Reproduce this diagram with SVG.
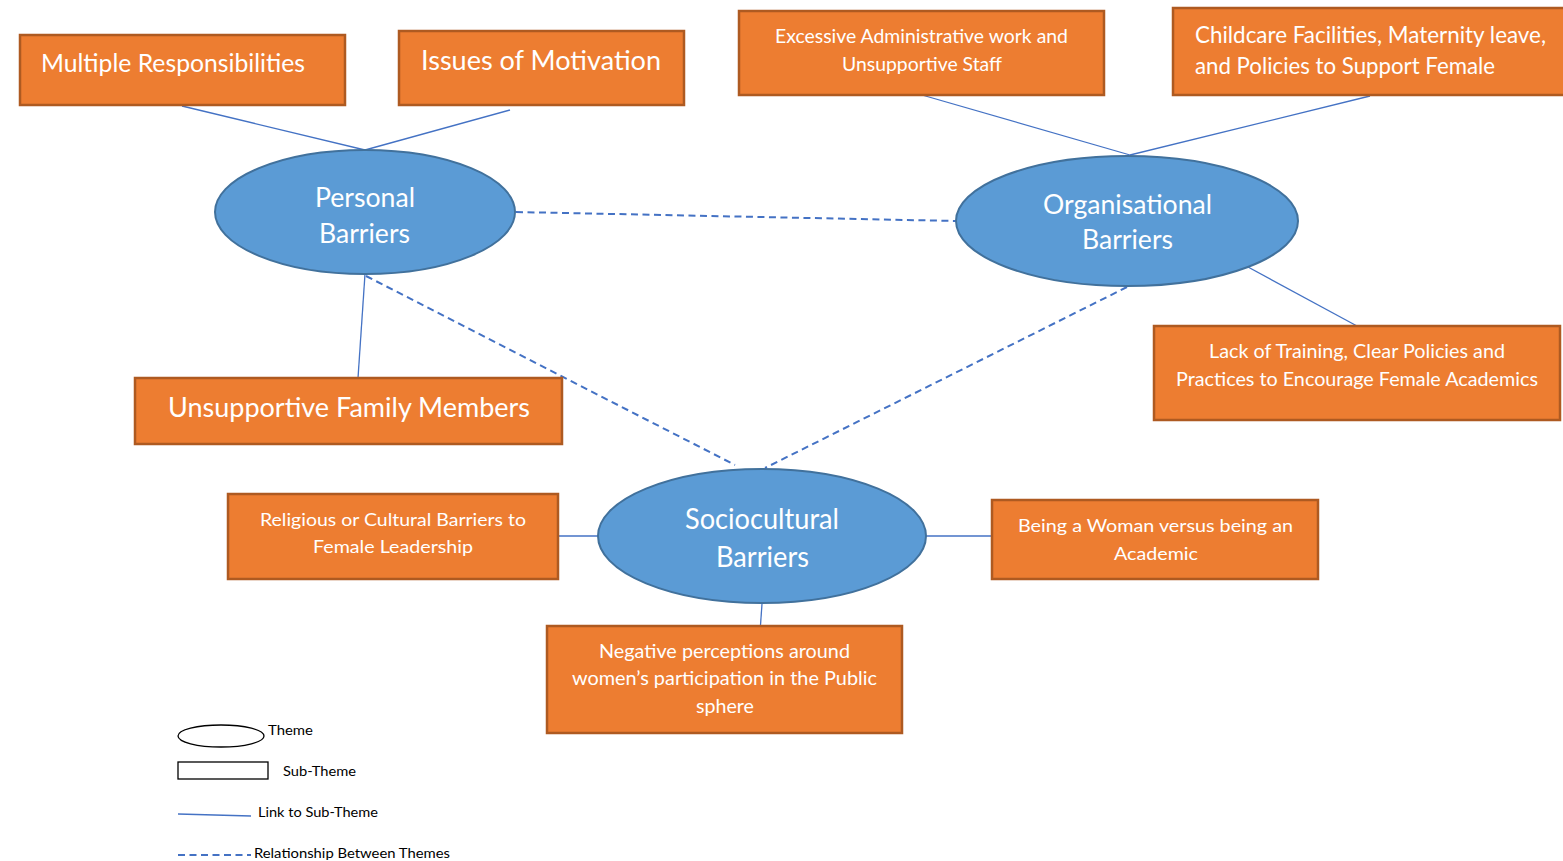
<svg xmlns="http://www.w3.org/2000/svg" width="1563" height="861" viewBox="0 0 1563 861">
  <style>
    .box { fill: #ed7d31; stroke: #ae5a21; stroke-width: 2.5; }
    .theme { fill: #5b9bd5; stroke: #41719c; stroke-width: 2; }
    .link { stroke: #4472c4; stroke-width: 1.3; fill: none; }
    .rel { stroke: #4472c4; stroke-width: 2; stroke-dasharray: 7 4.5; fill: none; }
    .t { font-family: Lato, "Open Sans", "Liberation Sans", sans-serif; fill: #ffffff; }
    .lg { font-family: Lato, "Open Sans", "Liberation Sans", sans-serif; fill: #000000; font-size: 14px; }
  </style>
  <rect width="1563" height="861" fill="#ffffff"/>

  <!-- connectors -->
  <g id="connectors">
    <line class="link" x1="182" y1="106" x2="365" y2="150"/>
    <line class="link" x1="510" y1="110" x2="365" y2="150"/>
    <line class="link" x1="365" y1="274" x2="358" y2="378"/>
    <line class="link" x1="922" y1="95" x2="1130" y2="155"/>
    <line class="link" x1="1370" y1="96" x2="1130" y2="155"/>
    <line class="link" x1="1248" y1="267" x2="1357" y2="326"/>
    <line class="link" x1="558" y1="536" x2="598" y2="536"/>
    <line class="link" x1="926" y1="536" x2="992" y2="536"/>
    <line class="link" x1="762" y1="604" x2="760" y2="632"/>
    <line class="rel" x1="516" y1="212" x2="956" y2="221"/>
    <line class="rel" x1="366" y1="276" x2="735" y2="465"/>
    <line class="rel" x1="1127" y1="287" x2="765" y2="468"/>
  </g>

  <!-- sub-themes -->
  <g id="multiple-responsibilities">
    <rect class="box" x="20" y="35" width="325" height="70"/>
    <text class="t" x="41" y="72" font-size="25" textLength="264" lengthAdjust="spacingAndGlyphs">Multiple Responsibilities</text>
  </g>
  <g id="issues-of-motivation">
    <rect class="box" x="399" y="31" width="285" height="74"/>
    <text class="t" x="421" y="70" font-size="27" textLength="240" lengthAdjust="spacingAndGlyphs">Issues of Motivation</text>
  </g>
  <g id="excessive-admin">
    <rect class="box" x="739" y="11" width="365" height="84"/>
    <text class="t" x="775" y="43" font-size="20" textLength="293" lengthAdjust="spacingAndGlyphs">Excessive Administrative work and</text>
    <text class="t" x="842" y="71" font-size="20" textLength="160" lengthAdjust="spacingAndGlyphs">Unsupportive Staff</text>
  </g>
  <g id="childcare">
    <rect class="box" x="1173" y="8" width="395" height="87"/>
    <text class="t" x="1195" y="43" font-size="23" textLength="351" lengthAdjust="spacingAndGlyphs">Childcare Facilities, Maternity leave,</text>
    <text class="t" x="1195" y="74" font-size="23" textLength="300" lengthAdjust="spacingAndGlyphs">and Policies to Support Female</text>
  </g>
  <g id="lack-of-training">
    <rect class="box" x="1154" y="326" width="406" height="94"/>
    <text class="t" x="1209" y="358" font-size="19" textLength="296" lengthAdjust="spacingAndGlyphs">Lack of Training, Clear Policies and</text>
    <text class="t" x="1176" y="386" font-size="19" textLength="362" lengthAdjust="spacingAndGlyphs">Practices to Encourage Female Academics</text>
  </g>
  <g id="unsupportive-family">
    <rect class="box" x="135" y="378" width="427" height="66"/>
    <text class="t" x="168" y="417" font-size="26" textLength="362" lengthAdjust="spacingAndGlyphs">Unsupportive Family Members</text>
  </g>
  <g id="religious-cultural">
    <rect class="box" x="228" y="494" width="330" height="85"/>
    <text class="t" x="260" y="526" font-size="18" textLength="266" lengthAdjust="spacingAndGlyphs">Religious or Cultural Barriers to</text>
    <text class="t" x="313" y="553" font-size="18" textLength="160" lengthAdjust="spacingAndGlyphs">Female Leadership</text>
  </g>
  <g id="woman-vs-academic">
    <rect class="box" x="992" y="500" width="326" height="79"/>
    <text class="t" x="1018" y="532" font-size="18" textLength="275" lengthAdjust="spacingAndGlyphs">Being a Woman versus being an</text>
    <text class="t" x="1114" y="560" font-size="18" textLength="84" lengthAdjust="spacingAndGlyphs">Academic</text>
  </g>
  <g id="negative-perceptions">
    <rect class="box" x="547" y="626" width="355" height="107"/>
    <text class="t" x="599" y="658" font-size="19" textLength="251" lengthAdjust="spacingAndGlyphs">Negative perceptions around</text>
    <text class="t" x="572" y="685" font-size="19" textLength="305" lengthAdjust="spacingAndGlyphs">women’s participation in the Public</text>
    <text class="t" x="696" y="713" font-size="19" textLength="58" lengthAdjust="spacingAndGlyphs">sphere</text>
  </g>

  <!-- themes -->
  <g id="personal-barriers">
    <ellipse class="theme" cx="365" cy="212" rx="150" ry="62"/>
    <text class="t" x="315" y="207" font-size="27" textLength="100" lengthAdjust="spacingAndGlyphs">Personal</text>
    <text class="t" x="319" y="243" font-size="27" textLength="91" lengthAdjust="spacingAndGlyphs">Barriers</text>
  </g>
  <g id="organisational-barriers">
    <ellipse class="theme" cx="1127" cy="221" rx="171" ry="65"/>
    <text class="t" x="1043" y="214" font-size="27" textLength="169" lengthAdjust="spacingAndGlyphs">Organisational</text>
    <text class="t" x="1082" y="249" font-size="27" textLength="91" lengthAdjust="spacingAndGlyphs">Barriers</text>
  </g>
  <g id="sociocultural-barriers">
    <ellipse class="theme" cx="762" cy="536" rx="164" ry="67"/>
    <text class="t" x="685" y="529" font-size="28" textLength="154" lengthAdjust="spacingAndGlyphs">Sociocultural</text>
    <text class="t" x="716" y="567" font-size="28" textLength="93" lengthAdjust="spacingAndGlyphs">Barriers</text>
  </g>

  <!-- legend -->
  <g id="legend">
    <ellipse cx="221" cy="736" rx="43" ry="11" fill="#ffffff" stroke="#000000" stroke-width="1.3"/>
    <text class="lg" x="268" y="735" textLength="45" lengthAdjust="spacingAndGlyphs">Theme</text>
    <rect x="178" y="762" width="90" height="17" fill="#ffffff" stroke="#000000" stroke-width="1.3"/>
    <text class="lg" x="283" y="776" textLength="73" lengthAdjust="spacingAndGlyphs">Sub-Theme</text>
    <line class="link" x1="178" y1="814" x2="251" y2="816"/>
    <text class="lg" x="258" y="817" textLength="120" lengthAdjust="spacingAndGlyphs">Link to Sub-Theme</text>
    <line class="rel" x1="178" y1="855" x2="251" y2="855"/>
    <text class="lg" x="254" y="858" textLength="196" lengthAdjust="spacingAndGlyphs">Relationship Between Themes</text>
  </g>
</svg>
